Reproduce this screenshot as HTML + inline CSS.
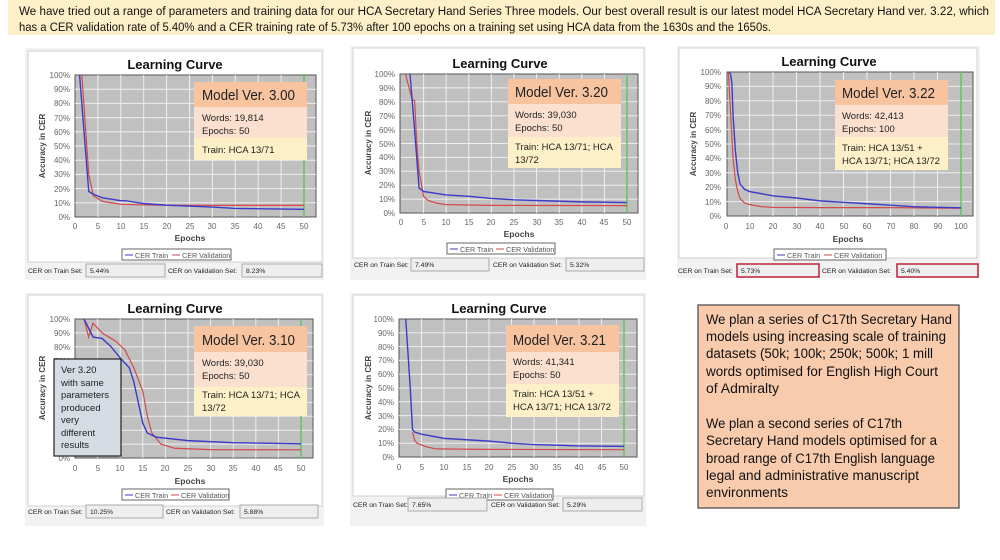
<!DOCTYPE html>
<html><head><meta charset="utf-8"><style>
html,body{margin:0;padding:0;background:#fff;width:1000px;height:560px;overflow:hidden}
svg text{font-family:"Liberation Sans",sans-serif}
.t{font-size:13px;font-weight:bold;text-anchor:middle;fill:#111}
.ty{font-size:8px;fill:#666;text-anchor:end}
.tx{font-size:8px;fill:#666;text-anchor:middle}
.ep{font-size:8.5px;font-weight:bold;fill:#444;text-anchor:middle}
.yl{font-size:8px;font-weight:bold;fill:#444;text-anchor:middle}
.lg{font-size:7.2px;fill:#555}
.bt{font-size:6.8px;fill:#222}
.mh{font-size:14.5px;fill:#222}
.mb{font-size:9.5px;fill:#222}
.g line{stroke:#eee;stroke-width:1;vector-effect:non-scaling-stroke}
.tr{fill:none;stroke:#3b3bc8;stroke-width:1.4;vector-effect:non-scaling-stroke}
.va{fill:none;stroke:#d24a4a;stroke-width:1.2;vector-effect:non-scaling-stroke}
.gr{stroke:#5ec85e;stroke-width:1.5;vector-effect:non-scaling-stroke}
.big{font-size:13.5px;fill:#111}
.hd{font-size:12.3px;fill:#111}
</style></head><body>
<svg width="1000" height="560" viewBox="0 0 1000 560" xmlns="http://www.w3.org/2000/svg">
<rect x="8" y="0" width="987" height="35" fill="#fdf0c8"/>
<text x="19" y="15" class="hd" textLength="970" lengthAdjust="spacingAndGlyphs">We have tried out a range of parameters and training data for our HCA Secretary Hand Series Three models. Our best overall result is our latest model HCA Secretary Hand ver. 3.22, which</text>
<text x="19" y="31" class="hd" textLength="752" lengthAdjust="spacingAndGlyphs">has a CER validation rate of 5.40% and a CER training rate of 5.73% after 100 epochs on a training set using HCA data from the 1630s and the 1650s.</text>

<!-- PANEL 1 -->
<rect x="25" y="48" width="299" height="232" fill="#f2f2f2"/>
<rect x="28" y="51" width="294" height="211" fill="#fff" stroke="#d0d0d0"/>
<text x="175" y="69" class="t">Learning Curve</text>
<rect x="75" y="75" width="241" height="142" fill="#c0c0c0" stroke="#555"/>
<g transform="translate(75,217) scale(4.58,-1.42)">
<g class="g"><line x1="5" y1="0" x2="5" y2="100"/><line x1="10" y1="0" x2="10" y2="100"/><line x1="15" y1="0" x2="15" y2="100"/><line x1="20" y1="0" x2="20" y2="100"/><line x1="25" y1="0" x2="25" y2="100"/><line x1="30" y1="0" x2="30" y2="100"/><line x1="35" y1="0" x2="35" y2="100"/><line x1="40" y1="0" x2="40" y2="100"/><line x1="45" y1="0" x2="45" y2="100"/>
<line x1="0" y1="10" x2="52.6" y2="10"/><line x1="0" y1="20" x2="52.6" y2="20"/><line x1="0" y1="30" x2="52.6" y2="30"/><line x1="0" y1="40" x2="52.6" y2="40"/><line x1="0" y1="50" x2="52.6" y2="50"/><line x1="0" y1="60" x2="52.6" y2="60"/><line x1="0" y1="70" x2="52.6" y2="70"/><line x1="0" y1="80" x2="52.6" y2="80"/><line x1="0" y1="90" x2="52.6" y2="90"/></g>
<line class="gr" x1="50" y1="0" x2="50" y2="100"/>
<polyline class="va" points="1.5,100 3,30 4,15 6,11 10,9 15,8.5 20,8.3 30,8.2 50,8.2"/>
<polyline class="tr" points="1,100 3,18 4,16 6,13.5 10,11.5 11,11.5 15,9.5 20,8.3 30,7 35,6 50,5.4"/>
</g>
<g class="ty"><text x="70" y="78">100%</text><text x="70" y="92">90%</text><text x="70" y="106">80%</text><text x="70" y="121">70%</text><text x="70" y="135">60%</text><text x="70" y="149">50%</text><text x="70" y="163">40%</text><text x="70" y="177">30%</text><text x="70" y="192">20%</text><text x="70" y="206">10%</text><text x="70" y="220">0%</text></g>
<g class="tx"><text x="75" y="229">0</text><text x="98" y="229">5</text><text x="121" y="229">10</text><text x="144" y="229">15</text><text x="167" y="229">20</text><text x="190" y="229">25</text><text x="212" y="229">30</text><text x="235" y="229">35</text><text x="258" y="229">40</text><text x="281" y="229">45</text><text x="304" y="229">50</text></g>
<text x="190" y="241" class="ep">Epochs</text>
<text transform="translate(45,146) rotate(-90)" class="yl">Accuracy in CER</text>
<rect x="122" y="249" width="109" height="11" fill="#fff" stroke="#666"/>
<line x1="125" y1="255" x2="133" y2="255" stroke="#3b3bc8"/><text x="135" y="258" class="lg">CER Train</text>
<line x1="172" y1="255" x2="180" y2="255" stroke="#d24a4a"/><text x="182" y="258" class="lg">CER Validation</text>
<text x="28" y="273" class="bt">CER on Train Set:</text>
<rect x="86" y="264" width="79" height="13" fill="#eee" stroke="#aaa"/><text x="90" y="273" class="bt">5.44%</text>
<text x="168" y="273" class="bt">CER on Validation Set:</text>
<rect x="242" y="264" width="80" height="13" fill="#eee" stroke="#aaa"/><text x="246" y="273" class="bt">8.23%</text>
<rect x="194" y="82" width="113" height="25" fill="#f8c4a0"/>
<rect x="194" y="107" width="113" height="31" fill="#fbe0d0"/>
<rect x="194" y="138" width="113" height="22" fill="#fdf0c8"/>
<text x="202" y="100" class="mh" textLength="93" lengthAdjust="spacingAndGlyphs">Model Ver. 3.00</text>
<text x="202" y="121" class="mb">Words: 19,814</text>
<text x="202" y="134" class="mb">Epochs: 50</text>
<text x="202" y="153" class="mb">Train: HCA 13/71</text>

<!-- PANEL 2 -->
<rect x="350" y="46" width="296" height="234" fill="#f2f2f2"/>
<rect x="353" y="48" width="291" height="210" fill="#fff" stroke="#d0d0d0"/>
<text x="500" y="68" class="t">Learning Curve</text>
<rect x="400" y="74" width="238" height="139" fill="#c0c0c0" stroke="#555"/>
<g transform="translate(401,213) scale(4.52,-1.39)">
<g class="g"><line x1="5" y1="0" x2="5" y2="100"/><line x1="10" y1="0" x2="10" y2="100"/><line x1="15" y1="0" x2="15" y2="100"/><line x1="20" y1="0" x2="20" y2="100"/><line x1="25" y1="0" x2="25" y2="100"/><line x1="30" y1="0" x2="30" y2="100"/><line x1="35" y1="0" x2="35" y2="100"/><line x1="40" y1="0" x2="40" y2="100"/><line x1="45" y1="0" x2="45" y2="100"/>
<line x1="0" y1="10" x2="52.4" y2="10"/><line x1="0" y1="20" x2="52.4" y2="20"/><line x1="0" y1="30" x2="52.4" y2="30"/><line x1="0" y1="40" x2="52.4" y2="40"/><line x1="0" y1="50" x2="52.4" y2="50"/><line x1="0" y1="60" x2="52.4" y2="60"/><line x1="0" y1="70" x2="52.4" y2="70"/><line x1="0" y1="80" x2="52.4" y2="80"/><line x1="0" y1="90" x2="52.4" y2="90"/></g>
<line class="gr" x1="50" y1="0" x2="50" y2="100"/>
<polyline class="va" points="1,100 2.5,81 3,81 3.5,50 4,30 5,12 6,9 8,7 10,6 20,5.5 50,5.3"/>
<polyline class="tr" points="2,100 3,60 4,18 5,15.5 8,14 10,13 15,12 20,10.5 25,9.5 30,9 40,8 50,7.5"/>
</g>
<g class="ty"><text x="395" y="77">100%</text><text x="395" y="91">90%</text><text x="395" y="105">80%</text><text x="395" y="119">70%</text><text x="395" y="133">60%</text><text x="395" y="147">50%</text><text x="395" y="160">40%</text><text x="395" y="174">30%</text><text x="395" y="188">20%</text><text x="395" y="202">10%</text><text x="395" y="216">0%</text></g>
<g class="tx"><text x="401" y="225">0</text><text x="424" y="225">5</text><text x="446" y="225">10</text><text x="469" y="225">15</text><text x="491" y="225">20</text><text x="514" y="225">25</text><text x="537" y="225">30</text><text x="559" y="225">35</text><text x="582" y="225">40</text><text x="604" y="225">45</text><text x="627" y="225">50</text></g>
<text x="519" y="237" class="ep">Epochs</text>
<text transform="translate(371,143) rotate(-90)" class="yl">Accuracy in CER</text>
<rect x="447" y="243" width="108" height="11" fill="#fff" stroke="#666"/>
<line x1="450" y1="249" x2="458" y2="249" stroke="#3b3bc8"/><text x="460" y="252" class="lg">CER Train</text>
<line x1="496" y1="249" x2="504" y2="249" stroke="#d24a4a"/><text x="506" y="252" class="lg">CER Validation</text>
<text x="354" y="267" class="bt">CER on Train Set:</text>
<rect x="411" y="258" width="78" height="13" fill="#eee" stroke="#aaa"/><text x="415" y="267" class="bt">7.49%</text>
<text x="493" y="267" class="bt">CER on Validation Set:</text>
<rect x="566" y="258" width="78" height="13" fill="#eee" stroke="#aaa"/><text x="570" y="267" class="bt">5.32%</text>
<rect x="508" y="79" width="113" height="25" fill="#f8c4a0"/>
<rect x="508" y="104" width="113" height="33" fill="#fbe0d0"/>
<rect x="508" y="137" width="113" height="31" fill="#fdf0c8"/>
<text x="515" y="97" class="mh" textLength="93" lengthAdjust="spacingAndGlyphs">Model Ver. 3.20</text>
<text x="515" y="118" class="mb">Words: 39,030</text>
<text x="515" y="131" class="mb">Epochs: 50</text>
<text x="515" y="150" class="mb" textLength="98" lengthAdjust="spacingAndGlyphs">Train: HCA 13/71; HCA</text>
<text x="515" y="163" class="mb">13/72</text>

<!-- PANEL 3 -->
<rect x="677" y="46" width="303" height="232" fill="#f2f2f2"/>
<rect x="679" y="48" width="298" height="210" fill="#fff" stroke="#d0d0d0"/>
<text x="829" y="66" class="t">Learning Curve</text>
<rect x="727" y="72" width="246" height="144" fill="#c0c0c0" stroke="#555"/>
<g transform="translate(726,216) scale(2.35,-1.44)">
<g class="g"><line x1="10" y1="0" x2="10" y2="100"/><line x1="20" y1="0" x2="20" y2="100"/><line x1="30" y1="0" x2="30" y2="100"/><line x1="40" y1="0" x2="40" y2="100"/><line x1="50" y1="0" x2="50" y2="100"/><line x1="60" y1="0" x2="60" y2="100"/><line x1="70" y1="0" x2="70" y2="100"/><line x1="80" y1="0" x2="80" y2="100"/><line x1="90" y1="0" x2="90" y2="100"/>
<line x1="0" y1="10" x2="104.5" y2="10"/><line x1="0" y1="20" x2="104.5" y2="20"/><line x1="0" y1="30" x2="104.5" y2="30"/><line x1="0" y1="40" x2="104.5" y2="40"/><line x1="0" y1="50" x2="104.5" y2="50"/><line x1="0" y1="60" x2="104.5" y2="60"/><line x1="0" y1="70" x2="104.5" y2="70"/><line x1="0" y1="80" x2="104.5" y2="80"/><line x1="0" y1="90" x2="104.5" y2="90"/></g>
<line class="gr" x1="100" y1="0" x2="100" y2="100"/>
<polyline class="va" points="1,100 2,70 3,40 4,25 5,17 6,12 8,9 10,8 15,6.5 20,6 40,5.8 70,5.8 100,5.4"/>
<polyline class="tr" points="1.5,100 2,98 2.5,92 3,70 4,45 5,30 6,22 8,18.5 10,17 20,14 30,12.5 40,10.5 50,9.5 60,8.5 70,7.5 80,6.5 90,6 100,5.7"/>
</g>
<g class="ty"><text x="721" y="75">100%</text><text x="721" y="89">90%</text><text x="721" y="104">80%</text><text x="721" y="118">70%</text><text x="721" y="133">60%</text><text x="721" y="147">50%</text><text x="721" y="161">40%</text><text x="721" y="176">30%</text><text x="721" y="190">20%</text><text x="721" y="205">10%</text><text x="721" y="219">0%</text></g>
<g class="tx"><text x="726" y="229">0</text><text x="750" y="229">10</text><text x="773" y="229">20</text><text x="797" y="229">30</text><text x="820" y="229">40</text><text x="844" y="229">50</text><text x="867" y="229">60</text><text x="891" y="229">70</text><text x="914" y="229">80</text><text x="938" y="229">90</text><text x="961" y="229">100</text></g>
<text x="848" y="242" class="ep">Epochs</text>
<text transform="translate(696,144) rotate(-90)" class="yl">Accuracy in CER</text>
<rect x="774" y="249" width="112" height="11" fill="#fff" stroke="#666"/>
<line x1="777" y1="255" x2="785" y2="255" stroke="#3b3bc8"/><text x="787" y="258" class="lg">CER Train</text>
<line x1="824" y1="255" x2="832" y2="255" stroke="#d24a4a"/><text x="834" y="258" class="lg">CER Validation</text>
<text x="678" y="273" class="bt">CER on Train Set:</text>
<rect x="737" y="264" width="82" height="13" fill="#eee" stroke="#c0203a" stroke-width="1.5"/><text x="741" y="273" class="bt">5.73%</text>
<text x="822" y="273" class="bt">CER on Validation Set:</text>
<rect x="897" y="264" width="81" height="13" fill="#eee" stroke="#c0203a" stroke-width="1.5"/><text x="901" y="273" class="bt">5.40%</text>
<rect x="835" y="80" width="113" height="25" fill="#f8c4a0"/>
<rect x="835" y="105" width="113" height="32" fill="#fbe0d0"/>
<rect x="835" y="137" width="113" height="33" fill="#fdf0c8"/>
<text x="842" y="98" class="mh" textLength="93" lengthAdjust="spacingAndGlyphs">Model Ver. 3.22</text>
<text x="842" y="119" class="mb">Words: 42,413</text>
<text x="842" y="132" class="mb">Epochs: 100</text>
<text x="842" y="151" class="mb">Train: HCA 13/51 +</text>
<text x="842" y="164" class="mb" textLength="98" lengthAdjust="spacingAndGlyphs">HCA 13/71; HCA 13/72</text>

<!-- PANEL 4 -->
<rect x="25" y="293" width="299" height="233" fill="#f2f2f2"/>
<rect x="28" y="295" width="294" height="211" fill="#fff" stroke="#d0d0d0"/>
<text x="175" y="313" class="t">Learning Curve</text>
<rect x="75" y="319" width="238" height="139" fill="#c0c0c0" stroke="#555"/>
<g transform="translate(75,458) scale(4.52,-1.39)">
<g class="g"><line x1="5" y1="0" x2="5" y2="100"/><line x1="10" y1="0" x2="10" y2="100"/><line x1="15" y1="0" x2="15" y2="100"/><line x1="20" y1="0" x2="20" y2="100"/><line x1="25" y1="0" x2="25" y2="100"/><line x1="30" y1="0" x2="30" y2="100"/><line x1="35" y1="0" x2="35" y2="100"/><line x1="40" y1="0" x2="40" y2="100"/><line x1="45" y1="0" x2="45" y2="100"/>
<line x1="0" y1="10" x2="52.6" y2="10"/><line x1="0" y1="20" x2="52.6" y2="20"/><line x1="0" y1="30" x2="52.6" y2="30"/><line x1="0" y1="40" x2="52.6" y2="40"/><line x1="0" y1="50" x2="52.6" y2="50"/><line x1="0" y1="60" x2="52.6" y2="60"/><line x1="0" y1="70" x2="52.6" y2="70"/><line x1="0" y1="80" x2="52.6" y2="80"/><line x1="0" y1="90" x2="52.6" y2="90"/></g>
<line class="gr" x1="50" y1="0" x2="50" y2="100"/>
<polyline class="va" points="2,100 3,87 4,97 6,90 9,84 11,78 13,65 15,48 16,30 17,18 19,10 22,7 30,6 50,5.9"/>
<polyline class="tr" points="2,100 4,87 6,86 8,80 10,72 12,65 13,55 14,40 15,25 16,18 18,15 25,12.5 35,11 50,10.2"/>
</g>
<g class="ty"><text x="70" y="322">100%</text><text x="70" y="336">90%</text><text x="70" y="350">80%</text><text x="70" y="364">70%</text><text x="70" y="378">60%</text><text x="70" y="392">50%</text><text x="70" y="405">40%</text><text x="70" y="419">30%</text><text x="70" y="433">20%</text><text x="70" y="447">10%</text><text x="70" y="461">0%</text></g>
<g class="tx"><text x="75" y="471">0</text><text x="98" y="471">5</text><text x="120" y="471">10</text><text x="143" y="471">15</text><text x="165" y="471">20</text><text x="188" y="471">25</text><text x="211" y="471">30</text><text x="233" y="471">35</text><text x="256" y="471">40</text><text x="278" y="471">45</text><text x="301" y="471">50</text></g>
<text x="190" y="484" class="ep">Epochs</text>
<text transform="translate(45,388) rotate(-90)" class="yl">Accuracy in CER</text>
<rect x="122" y="489" width="107" height="11" fill="#fff" stroke="#666"/>
<line x1="125" y1="495" x2="133" y2="495" stroke="#3b3bc8"/><text x="135" y="498" class="lg">CER Train</text>
<line x1="171" y1="495" x2="179" y2="495" stroke="#d24a4a"/><text x="181" y="498" class="lg">CER Validation</text>
<text x="28" y="514" class="bt">CER on Train Set:</text>
<rect x="86" y="505" width="77" height="13" fill="#eee" stroke="#aaa"/><text x="90" y="514" class="bt">10.25%</text>
<text x="166" y="514" class="bt">CER on Validation Set:</text>
<rect x="240" y="505" width="78" height="13" fill="#eee" stroke="#aaa"/><text x="244" y="514" class="bt">5.88%</text>
<rect x="194" y="326" width="113" height="26" fill="#f8c4a0"/>
<rect x="194" y="352" width="113" height="35" fill="#fbe0d0"/>
<rect x="194" y="387" width="113" height="29" fill="#fdf0c8"/>
<text x="202" y="345" class="mh" textLength="93" lengthAdjust="spacingAndGlyphs">Model Ver. 3.10</text>
<text x="202" y="366" class="mb">Words: 39,030</text>
<text x="202" y="379" class="mb">Epochs: 50</text>
<text x="202" y="398" class="mb" textLength="98" lengthAdjust="spacingAndGlyphs">Train: HCA 13/71; HCA</text>
<text x="202" y="411" class="mb">13/72</text>
<rect x="54" y="359" width="67" height="97" fill="#d6dce4" stroke="#222" stroke-width="1.2"/>
<g class="mb"><text x="61" y="373">Ver 3.20</text><text x="61" y="386">with same</text><text x="61" y="398">parameters</text><text x="61" y="411">produced</text><text x="61" y="423">very</text><text x="61" y="436">different</text><text x="61" y="448">results</text></g>

<!-- PANEL 5 -->
<rect x="350" y="293" width="296" height="233" fill="#f2f2f2"/>
<rect x="353" y="295" width="291" height="201" fill="#fff" stroke="#d0d0d0"/>
<text x="499" y="313" class="t">Learning Curve</text>
<rect x="399" y="319" width="238" height="138" fill="#c0c0c0" stroke="#555"/>
<g transform="translate(399,457) scale(4.5,-1.38)">
<g class="g"><line x1="5" y1="0" x2="5" y2="100"/><line x1="10" y1="0" x2="10" y2="100"/><line x1="15" y1="0" x2="15" y2="100"/><line x1="20" y1="0" x2="20" y2="100"/><line x1="25" y1="0" x2="25" y2="100"/><line x1="30" y1="0" x2="30" y2="100"/><line x1="35" y1="0" x2="35" y2="100"/><line x1="40" y1="0" x2="40" y2="100"/><line x1="45" y1="0" x2="45" y2="100"/>
<line x1="0" y1="10" x2="52.8" y2="10"/><line x1="0" y1="20" x2="52.8" y2="20"/><line x1="0" y1="30" x2="52.8" y2="30"/><line x1="0" y1="40" x2="52.8" y2="40"/><line x1="0" y1="50" x2="52.8" y2="50"/><line x1="0" y1="60" x2="52.8" y2="60"/><line x1="0" y1="70" x2="52.8" y2="70"/><line x1="0" y1="80" x2="52.8" y2="80"/><line x1="0" y1="90" x2="52.8" y2="90"/></g>
<line class="gr" x1="50" y1="0" x2="50" y2="100"/>
<polyline class="va" points="3,18 3.5,12 4,10 6,7.5 8,6 10,5.8 20,5.5 50,5.3"/>
<polyline class="tr" points="1.5,100 2.5,50 3,20 3.5,18 5,16.5 10,13.5 20,11.5 25,10 30,9 40,8 50,7.7"/>
</g>
<g class="ty"><text x="394" y="322">100%</text><text x="394" y="336">90%</text><text x="394" y="350">80%</text><text x="394" y="363">70%</text><text x="394" y="377">60%</text><text x="394" y="391">50%</text><text x="394" y="405">40%</text><text x="394" y="419">30%</text><text x="394" y="432">20%</text><text x="394" y="446">10%</text><text x="394" y="460">0%</text></g>
<g class="tx"><text x="399" y="470">0</text><text x="422" y="470">5</text><text x="444" y="470">10</text><text x="467" y="470">15</text><text x="489" y="470">20</text><text x="512" y="470">25</text><text x="534" y="470">30</text><text x="557" y="470">35</text><text x="579" y="470">40</text><text x="602" y="470">45</text><text x="624" y="470">50</text></g>
<text x="518" y="482" class="ep">Epochs</text>
<text transform="translate(371,388) rotate(-90)" class="yl">Accuracy in CER</text>
<rect x="446" y="489" width="107" height="11" fill="#fff" stroke="#666"/>
<line x1="449" y1="495" x2="457" y2="495" stroke="#3b3bc8"/><text x="459" y="498" class="lg">CER Train</text>
<line x1="494" y1="495" x2="502" y2="495" stroke="#d24a4a"/><text x="504" y="498" class="lg">CER Validation</text>
<text x="353" y="507" class="bt">CER on Train Set:</text>
<rect x="408" y="498" width="79" height="13" fill="#eee" stroke="#aaa"/><text x="412" y="507" class="bt">7.65%</text>
<text x="491" y="507" class="bt">CER on Validation Set:</text>
<rect x="563" y="498" width="79" height="13" fill="#eee" stroke="#aaa"/><text x="567" y="507" class="bt">5.29%</text>
<rect x="506" y="325" width="113" height="27" fill="#f8c4a0"/>
<rect x="506" y="352" width="113" height="32" fill="#fbe0d0"/>
<rect x="506" y="384" width="113" height="33" fill="#fdf0c8"/>
<text x="513" y="345" class="mh" textLength="93" lengthAdjust="spacingAndGlyphs">Model Ver. 3.21</text>
<text x="513" y="365" class="mb">Words: 41,341</text>
<text x="513" y="378" class="mb">Epochs: 50</text>
<text x="513" y="397" class="mb">Train: HCA 13/51 +</text>
<text x="513" y="410" class="mb" textLength="98" lengthAdjust="spacingAndGlyphs">HCA 13/71; HCA 13/72</text>

<!-- RIGHT TEXT BOX -->
<rect x="698" y="305" width="261" height="203" fill="#f8cbad" stroke="#444" stroke-width="1.2"/>
<g class="big">
<text x="706" y="324" textLength="246" lengthAdjust="spacingAndGlyphs">We plan a series of C17th Secretary Hand</text>
<text x="706" y="341" textLength="240" lengthAdjust="spacingAndGlyphs">models using increasing scale of training</text>
<text x="706" y="358" textLength="227" lengthAdjust="spacingAndGlyphs">datasets (50k; 100k; 250k; 500k; 1 mill</text>
<text x="706" y="376" textLength="232" lengthAdjust="spacingAndGlyphs">words optimised for English High Court</text>
<text x="706" y="393" textLength="73" lengthAdjust="spacingAndGlyphs">of Admiralty</text>
<text x="706" y="428" textLength="196" lengthAdjust="spacingAndGlyphs">We plan a second series of C17th</text>
<text x="706" y="445" textLength="231" lengthAdjust="spacingAndGlyphs">Secretary Hand models optimised for a</text>
<text x="706" y="463" textLength="229" lengthAdjust="spacingAndGlyphs">broad range of C17th English language</text>
<text x="706" y="480" textLength="213" lengthAdjust="spacingAndGlyphs">legal and administrative manuscript</text>
<text x="706" y="497" textLength="82" lengthAdjust="spacingAndGlyphs">environments</text>
</g>
</svg>
</body></html>
